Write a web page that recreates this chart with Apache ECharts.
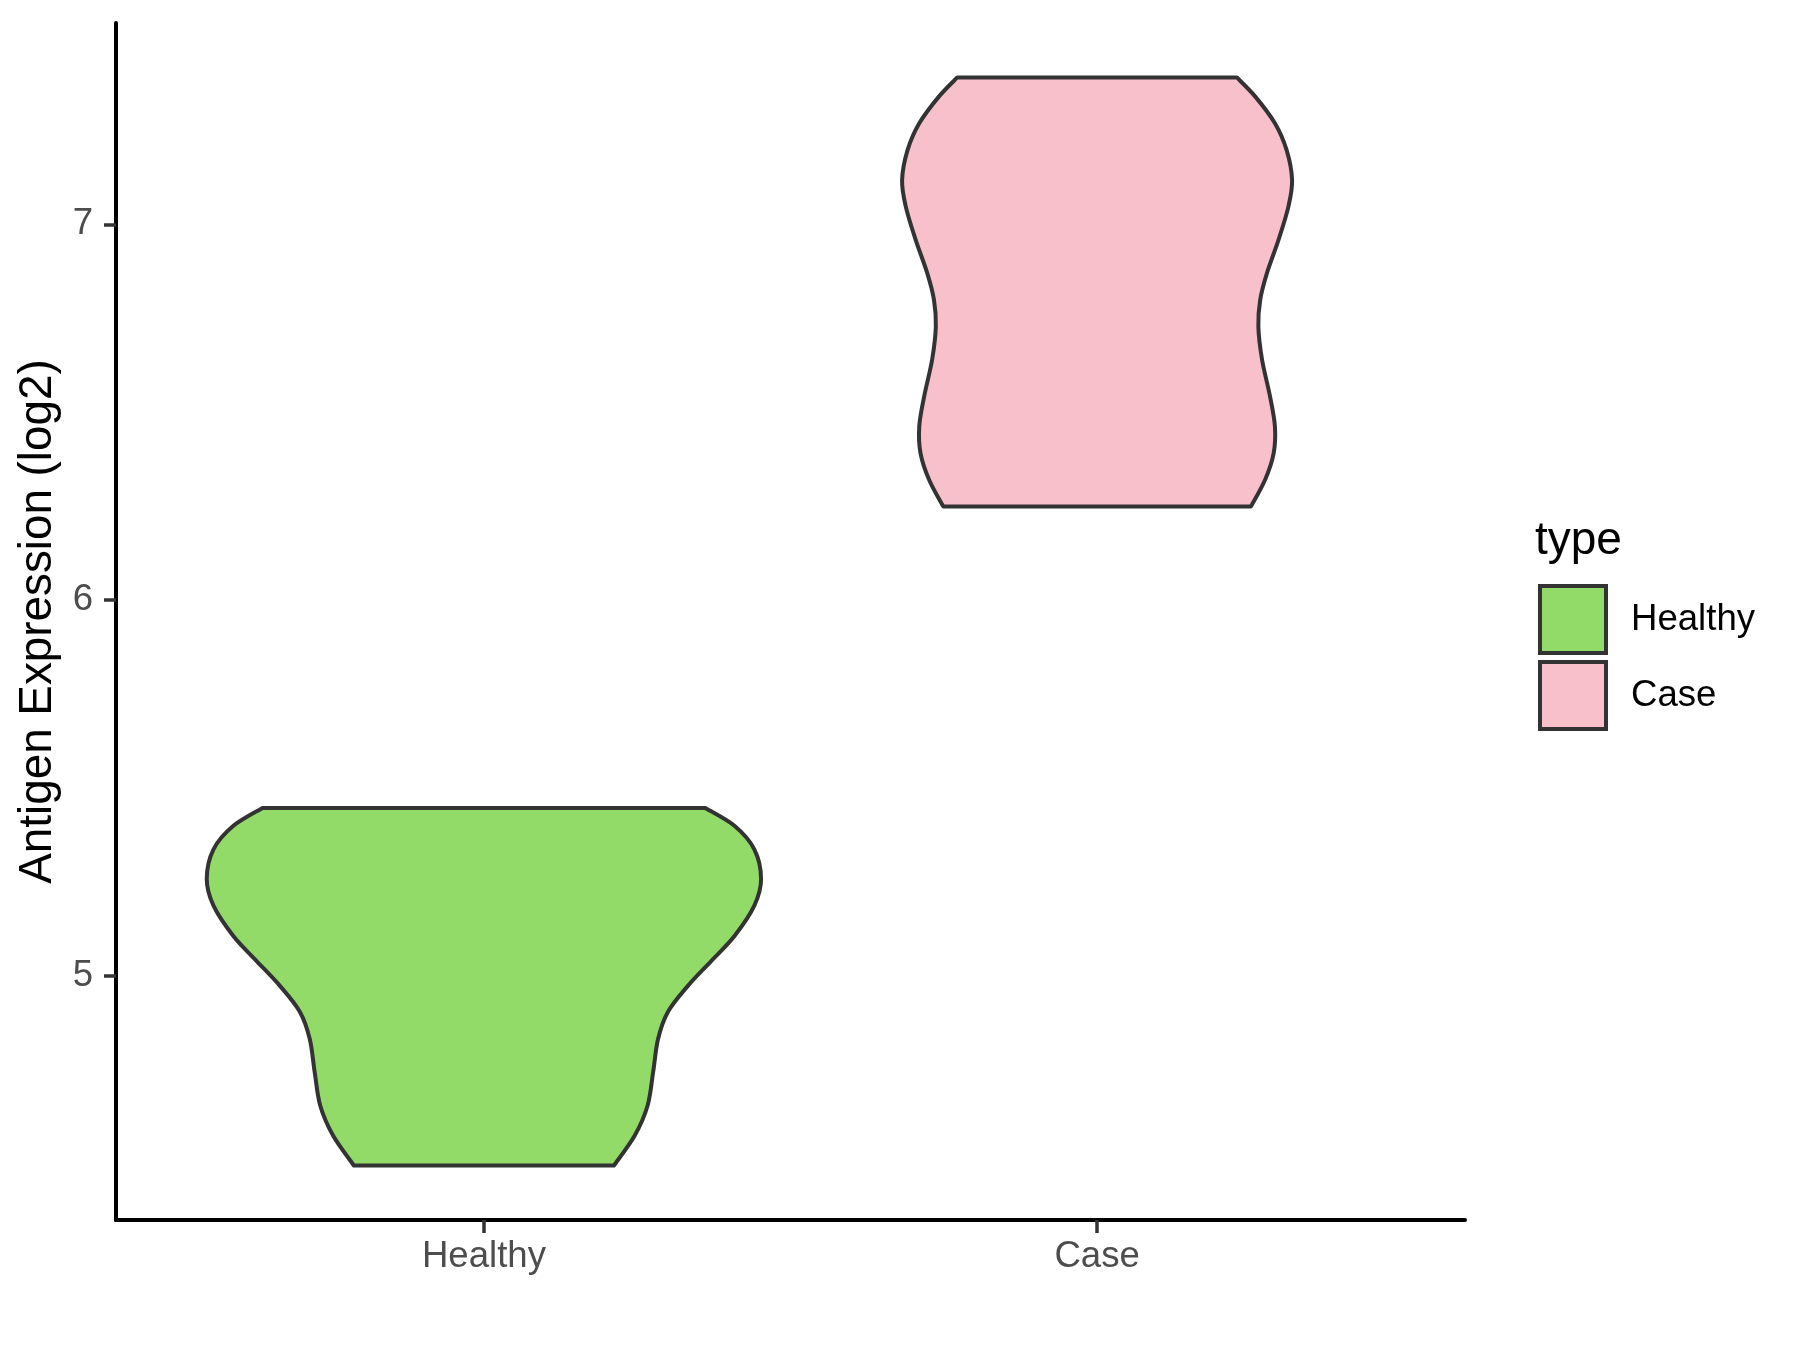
<!DOCTYPE html>
<html>
<head>
<meta charset="utf-8">
<script src="https://cdn.jsdelivr.net/npm/echarts@6/dist/echarts.min.js"></script>
<style>
  html, body { margin: 0; padding: 0; background: #fff; }
  #chart { width: 1800px; height: 1350px; }
</style>
</head>
<body>
<div id="chart"></div>
<script>
// Groups on the x axis
const groups = ['Healthy', 'Case'];
const groupColors = ['#93DB69', '#F8C0CB'];

// Violin outlines: expression level (log2) and half-width of the density at that level
const healthyLevels = [5.446, 5.398, 5.336, 5.257, 5.186, 5.106, 5.039, 4.973, 4.903, 4.831, 4.743, 4.654, 4.574, 4.494];
const healthyHalfWidth = [0.361, 0.409, 0.441, 0.452, 0.441, 0.409, 0.371, 0.333, 0.300, 0.284, 0.276, 0.267, 0.246, 0.212];

const caseLevels = [7.391, 7.340, 7.269, 7.198, 7.118, 7.047, 6.959, 6.870, 6.799, 6.728, 6.640, 6.542, 6.462, 6.391, 6.320, 6.249];
const caseHalfWidth = [0.228, 0.258, 0.290, 0.309, 0.318, 0.312, 0.296, 0.277, 0.266, 0.263, 0.269, 0.282, 0.290, 0.288, 0.274, 0.251];

// Axis ticks
const yTicks = [5, 6, 7];
const xTicks = [1, 2];

const FONT = "'Liberation Sans', Arial, Helvetica, sans-serif";

// Smooth curve through points (Catmull-Rom as cubic Beziers)
function curveThrough(P) {
  let d = '';
  const n = P.length;
  for (let i = 0; i < n - 1; i++) {
    const p0 = P[Math.max(i - 1, 0)], p1 = P[i], p2 = P[i + 1], p3 = P[Math.min(i + 2, n - 1)];
    const c1 = [p1[0] + (p2[0] - p0[0]) / 6, p1[1] + (p2[1] - p0[1]) / 6];
    const c2 = [p2[0] - (p3[0] - p1[0]) / 6, p2[1] - (p3[1] - p1[1]) / 6];
    d += ' C' + c1[0] + ',' + c1[1] + ' ' + c2[0] + ',' + c2[1] + ' ' + p2[0] + ',' + p2[1];
  }
  return d;
}

function violinRenderer(levels, halfWidth, color) {
  return function (params, api) {
    const xc = api.value(0);
    const left = levels.map((v, i) => api.coord([xc - halfWidth[i], v]));
    const right = levels.map((v, i) => api.coord([xc + halfWidth[i], v])).reverse();
    let d = 'M' + left[0][0] + ',' + left[0][1];
    d += curveThrough(left);
    d += ' L' + right[0][0] + ',' + right[0][1];
    d += curveThrough(right);
    d += ' Z';
    return {
      type: 'path',
      shape: { pathData: d },
      style: { fill: color, stroke: '#333333', lineWidth: 4, lineJoin: 'round' }
    };
  };
}

const chart = echarts.init(document.getElementById('chart'), null, { renderer: 'canvas' });

chart.setOption({
  animation: false,
  backgroundColor: '#ffffff',
  title: {
    text: 'type',
    left: 1535,
    top: 518,
    padding: 0,
    textStyle: { fontFamily: FONT, fontSize: 46, fontWeight: 'normal', color: '#000' }
  },
  legend: {
    orient: 'vertical',
    left: 1538,
    top: 584,
    padding: 0,
    icon: 'rect',
    itemWidth: 66,
    itemHeight: 67,
    itemGap: 5,
    itemStyle: { borderColor: '#333333', borderWidth: 4 },
    textStyle: { fontFamily: FONT, fontSize: 36.6, color: '#000', padding: [0, 0, 0, 20] },
    data: groups
  },
  grid: { left: 116, right: 335, top: 23, bottom: 130, containLabel: false },
  xAxis: {
    type: 'value',
    min: 0.4,
    max: 2.6,
    axisLine: { show: true, onZero: false, lineStyle: { color: '#000', width: 4 } },
    axisTick: { show: true, customValues: xTicks, length: 13, lineStyle: { color: '#333', width: 3.5 } },
    axisLabel: {
      show: true,
      customValues: xTicks,
      formatter: v => groups[Math.round(v) - 1],
      fontFamily: FONT, fontSize: 36.6, color: '#4D4D4D', margin: 18
    },
    splitLine: { show: false }
  },
  yAxis: {
    type: 'value',
    min: 4.349,
    max: 7.536,
    name: 'Antigen Expression (log2)',
    nameLocation: 'middle',
    nameGap: 54,
    nameRotate: 90,
    nameTextStyle: { fontFamily: FONT, fontSize: 45.8, color: '#000' },
    axisLine: { show: true, onZero: false, lineStyle: { color: '#000', width: 4 } },
    axisTick: { show: true, customValues: yTicks, length: 12, lineStyle: { color: '#333', width: 3.5 } },
    axisLabel: {
      show: true,
      customValues: yTicks,
      fontFamily: FONT, fontSize: 36.6, color: '#4D4D4D', margin: 23
    },
    splitLine: { show: false }
  },
  series: [
    {
      name: groups[0],
      type: 'custom',
      silent: true,
      itemStyle: { color: groupColors[0], borderColor: '#333333', borderWidth: 4 },
      renderItem: violinRenderer(healthyLevels, healthyHalfWidth, groupColors[0]),
      data: [[1, healthyLevels[0]]]
    },
    {
      name: groups[1],
      type: 'custom',
      silent: true,
      itemStyle: { color: groupColors[1], borderColor: '#333333', borderWidth: 4 },
      renderItem: violinRenderer(caseLevels, caseHalfWidth, groupColors[1]),
      data: [[2, caseLevels[0]]]
    }
  ]
});
</script>
</body>
</html>
